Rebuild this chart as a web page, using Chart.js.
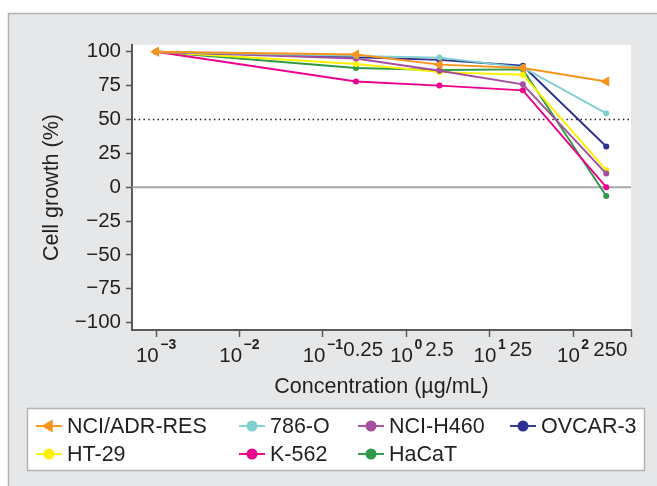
<!DOCTYPE html>
<html><head><meta charset="utf-8">
<script src="https://cdn.jsdelivr.net/npm/chart.js@4.4.1/dist/chart.umd.min.js"></script>
<style>html,body{margin:0;padding:0;background:#fff;}#wrap{width:657px;height:486px;position:relative}</style>
</head><body><div id="wrap"><canvas id="c" width="657" height="486"></canvas></div>
<script>
// ---- data ----
const concentrations = [0.001, 0.25, 2.5, 25, 250];
const seriesNames = ['NCI/ADR-RES', '786-O', 'NCI-H460', 'OVCAR-3', 'HT-29', 'K-562', 'HaCaT'];
const nciAdrRes = [100, 98, 90.5, 88, 78];
const o786 = [100, 97, 95.7, 88.5, 54.5];
const nciH460 = [100, 95, 86, 76, 10];
const ovcar3 = [100, 96, 94, 89.7, 30];
const ht29 = [100, 91, 85, 83, 12.5];
const k562 = [100, 78, 75, 71.5, 0];
const hacat = [100, 88, 86.5, 87, -6.5];
const xTickValues = [0.001, 0.01, 0.1, 0.25, 1, 2.5, 10, 25, 100, 250];
const xTickLabels = ['10^\u22123', '10^\u22122', '10^\u22121', '0.25', '10^0', '2.5', '10^1', '25', '10^2', '250'];
const yTickValues = [-100, -75, -50, -25, 0, 25, 50, 75, 100];
const yTickLabels = ['\u2212100', '\u221275', '\u221250', '\u221225', '0', '25', '50', '75', '100'];

// ---- styles ----
const seriesValues = [nciAdrRes, o786, nciH460, ovcar3, ht29, k562, hacat];
const colors = ['#f7941d', '#80cfcf', '#a54d9f', '#2e3192', '#fff200', '#ec008c', '#2e9946'];
const FONT = "'Liberation Sans', Arial, 'DejaVu Sans', sans-serif";
const TXT = '#231f20';
const AXIS = '#58595b';
const X_MIN = 5.15e-4, X_MAX = 495;
// small horizontal nudges (label padding) for plain numeric x labels
const labelNudge = {'0.25': '\u2002\u2009', '250': '\u2009\u2009'};
const labelTrail = {'25': '\u2009'};

const datasets = seriesNames.map((name, i) => ({
  label: name,
  data: concentrations.map((c, j) => ({x: c, y: seriesValues[i][j]})),
  borderColor: colors[i],
  backgroundColor: colors[i],
  borderWidth: 1.9,
  pointStyle: i === 0 ? 'triangle' : 'circle',
  pointRotation: i === 0 ? -90 : 0,
  pointRadius: i === 0 ? 6 : 3,
  pointBorderWidth: 0,
  pointHoverRadius: i === 0 ? 6 : 3,
  tension: 0,
  fill: false
}));

const isPow10 = v => Math.abs(Math.log10(v) - Math.round(Math.log10(v))) < 1e-9;

const bgPlugin = {
  id: 'bg',
  beforeDraw(chart) {
    const ctx = chart.ctx, a = chart.chartArea;
    ctx.save();
    ctx.fillStyle = '#fff';
    ctx.fillRect(0, 0, chart.width, chart.height);
    ctx.fillStyle = '#e6e7e8';
    ctx.fillRect(8, 13, chart.width, chart.height);
    ctx.strokeStyle = '#b1b3b6';
    ctx.lineWidth = 1.5;
    ctx.beginPath();
    ctx.moveTo(8.5, chart.height); ctx.lineTo(8.5, 13.5); ctx.lineTo(chart.width, 13.5);
    ctx.stroke();
    ctx.fillStyle = '#fff';
    ctx.fillRect(a.left, a.top, a.right - a.left, a.bottom - a.top);
    ctx.restore();
  }
};

const refLines = {
  id: 'refLines',
  beforeDatasetsDraw(chart) {
    const ctx = chart.ctx, a = chart.chartArea, ys = chart.scales.y;
    ctx.save();
    const y0 = ys.getPixelForValue(0);
    ctx.strokeStyle = '#a7a9ac'; ctx.lineWidth = 2;
    ctx.beginPath(); ctx.moveTo(a.left, y0); ctx.lineTo(a.right, y0); ctx.stroke();
    const y50 = ys.getPixelForValue(50);
    ctx.strokeStyle = '#231f20'; ctx.lineWidth = 1.5; ctx.setLineDash([1.5, 3.2]);
    ctx.beginPath(); ctx.moveTo(a.left + 2, y50); ctx.lineTo(a.right, y50); ctx.stroke();
    ctx.restore();
  }
};

// power-of-ten tick labels with real superscript exponents
const powerLabels = {
  id: 'powerLabels',
  afterDraw(chart) {
    const ctx = chart.ctx, xs = chart.scales.x, a = chart.chartArea;
    ctx.save();
    ctx.fillStyle = TXT;
    ctx.textBaseline = 'alphabetic';
    ctx.textAlign = 'left';
    xTickValues.forEach((v, k) => {
      const lab = xTickLabels[k];
      if (lab.indexOf('^') < 0) return;
      const [base, exp] = lab.split('^');
      const px = xs.getPixelForValue(v);
      ctx.font = '20.5px ' + FONT;
      const wb = ctx.measureText(base).width;
      ctx.font = 'bold 14px ' + FONT;
      const we = ctx.measureText(exp).width;
      const start = px - (wb + 1.5 + we) / 2;
      ctx.font = '20.5px ' + FONT;
      ctx.fillText(base, start, a.bottom + 31.5);
      ctx.font = 'bold 14px ' + FONT;
      ctx.fillText(exp, start + wb + 1.5, a.bottom + 18.5);
    });
    ctx.restore();
  }
};

const legendSlots = [[36, 426], [239, 426], [358, 426], [510, 426], [36, 454], [239, 454], [358, 454]];
const customLegend = {
  id: 'customLegend',
  afterDraw(chart) {
    const ctx = chart.ctx;
    ctx.save();
    ctx.fillStyle = '#fff';
    ctx.fillRect(27.5, 408.5, 617, 62);
    ctx.strokeStyle = '#b1b3b6'; ctx.lineWidth = 1.5;
    ctx.strokeRect(27.5, 408.5, 617, 62);
    chart.data.datasets.forEach((ds, i) => {
      const [x0, y] = legendSlots[i];
      ctx.strokeStyle = ds.borderColor; ctx.lineWidth = 1.9;
      ctx.beginPath(); ctx.moveTo(x0, y); ctx.lineTo(x0 + 26, y); ctx.stroke();
      ctx.fillStyle = ds.borderColor;
      const cx = x0 + 13;
      ctx.beginPath();
      if (ds.pointStyle === 'triangle') {
        const r = 7.5;
        ctx.moveTo(cx - r, y);
        ctx.lineTo(cx + r * 0.5, y - r * 0.866);
        ctx.lineTo(cx + r * 0.5, y + r * 0.866);
        ctx.closePath();
      } else {
        ctx.arc(cx, y, 5.5, 0, Math.PI * 2);
      }
      ctx.fill();
      ctx.fillStyle = TXT;
      ctx.font = '21.5px ' + FONT;
      ctx.textBaseline = 'middle';
      ctx.textAlign = 'left';
      ctx.fillText(ds.label, x0 + 31, y + 1);
    });
    ctx.restore();
  }
};

new Chart(document.getElementById('c'), {
  type: 'line',
  data: {datasets},
  options: {
    responsive: false,
    animation: false,
    devicePixelRatio: 1,
    layout: {padding: {left: 0, right: 26, top: 45, bottom: 86}},
    plugins: {legend: {display: false}, tooltip: {enabled: false}},
    scales: {
      x: {
        type: 'logarithmic',
        min: X_MIN, max: X_MAX,
        afterBuildTicks(scale) {
          scale.ticks = xTickValues.concat([X_MAX]).map(v => ({value: v}));
        },
        afterFit(scale) { scale.height = 70; },
        ticks: {
          autoSkip: false, maxRotation: 0, minRotation: 0,
          padding: 1,
          color: TXT,
          font: {family: FONT, size: 20.5},
          callback(value) {
            const k = xTickValues.indexOf(value);
            if (k < 0) return '';
            const lab = xTickLabels[k];
            if (lab.indexOf('^') >= 0) return '';
            return (labelNudge[lab] || '') + lab + (labelTrail[lab] || '');
          }
        },
        grid: {
          display: true, drawOnChartArea: false, drawTicks: true, tickLength: 7,
          tickWidth: 1.5,
          tickColor: ctx => (ctx.tick && (isPow10(ctx.tick.value) || ctx.tick.value === X_MAX)) ? AXIS : 'rgba(0,0,0,0)'
        },
        border: {display: true, color: AXIS, width: 2},
        title: {display: true, text: 'Concentration (\u00B5g/mL)', color: TXT, font: {family: FONT, size: 21.5}, padding: {top: 0, bottom: 0}}
      },
      y: {
        type: 'linear',
        min: -105.5, max: 105,
        afterBuildTicks(scale) {
          scale.ticks = yTickValues.map(v => ({value: v}));
        },
        afterFit(scale) { scale.width = 132; },
        ticks: {
          padding: 5,
          color: TXT,
          font: {family: FONT, size: 20.5},
          callback(value) {
            const k = yTickValues.indexOf(value);
            return k >= 0 ? yTickLabels[k] : '';
          }
        },
        grid: {display: true, drawOnChartArea: false, drawTicks: true, tickLength: 6, tickWidth: 1.5, tickColor: AXIS},
        border: {display: true, color: AXIS, width: 2},
        title: {display: true, text: 'Cell growth (%)', color: TXT, font: {family: FONT, size: 21.5}, padding: {top: 39, bottom: 0}}
      }
    }
  },
  plugins: [bgPlugin, refLines, powerLabels, customLegend]
});
</script>
</body></html>
